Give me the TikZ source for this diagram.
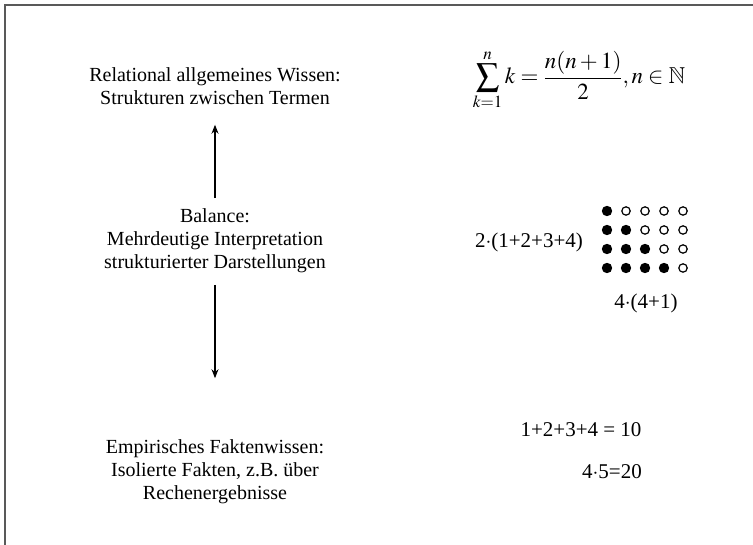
\documentclass[tikz,border=0pt]{standalone}
\usepackage{amssymb}
\usepackage{amsmath}
\usepackage{mathptmx}
\usepackage{fontspec}
\setmainfont{Liberation Serif}
\usepackage{tikz}
\usetikzlibrary{arrows.meta,positioning}

\begin{document}
\begin{tikzpicture}[
        x=1pt, y=-1pt,
        level/.style={align=center, font=\fontsize{20}{23}\selectfont, inner sep=2pt},
        term/.style={font=\fontsize{21}{24}\selectfont, inner sep=1pt},
        arrow/.style={-{Stealth[length=9pt,width=7pt]}, line width=1.2pt},
        full/.style={fill=black},
        empty/.style={draw=black, line width=1.2pt}
    ]
        \useasboundingbox (0,0) rectangle (753,545);
        \draw[gray!70!black, line width=1.8pt] (5,545) -- (5,5) -- (753,5);
        % left column
        \node[level] (relational) at (215,86) {Relational allgemeines Wissen:\\Strukturen zwischen Termen};
        \node[level] (balance) at (215,241) {Balance:\\Mehrdeutige Interpretation\\strukturierter Darstellungen};
        \node[level] (empirical) at (215,472) {Empirisches Faktenwissen:\\Isolierte Fakten, z.B. über\\Rechenergebnisse};
        \draw[arrow, shorten <=8.5pt, shorten >=18pt] (balance) -- (relational);
        \draw[arrow, shorten <=9.5pt, shorten >=59.5pt] (balance) -- (empirical);
        % right column
        \node[term, font=\fontsize{23}{26}\selectfont] (formula) at (579,80) {$\displaystyle\sum_{k=1}^{n} k=\frac{n(n+1)}{2},n\in\mathbb{N}$};
        \node[term] (double) at (529,242) {2$\cdot$(1+2+3+4)};
        \foreach \i in {1,...,4}
            \foreach \j in {1,...,5} {
                \ifnum\j>\i
                    \draw[empty] (588+19*\j,192+19*\i) circle (4.2pt);
                \else
                    \fill[full] (588+19*\j,192+19*\i) circle (5.2pt);
                \fi
            }
        \node[term] (rect) at (646,303) {4$\cdot$(4+1)};
        \node[term] (sum) at (581,430) {1+2+3+4 = 10};
        \node[term] (product) at (612,472) {4$\cdot$5=20};
    \end{tikzpicture}
\end{document}
